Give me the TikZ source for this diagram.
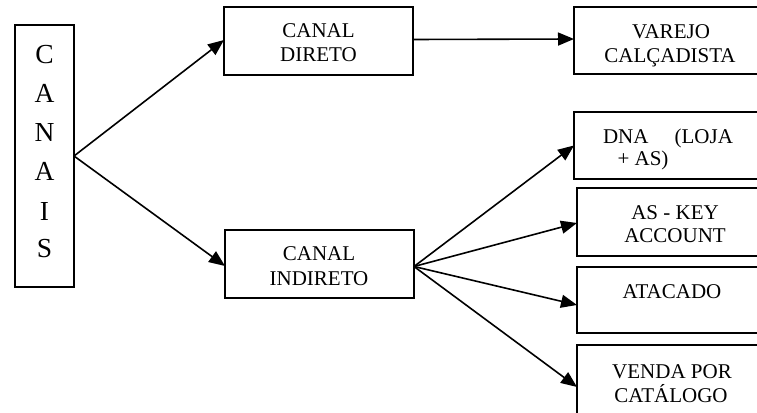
\documentclass[tikz,border=0pt]{standalone}
\usepackage{fontspec}
\setmainfont{Liberation Serif}
\usetikzlibrary{arrows.meta,calc}

\begin{document}
\begin{tikzpicture}[x=1pt,y=-1pt,
  box/.style={draw, line width=1.6pt, inner sep=0pt, outer sep=0pt},
  conn/.style={line width=1.6pt, -{Triangle[length=16pt,width=13pt]}},
  lbl/.style={anchor=base, inner sep=0pt, font=\fontsize{21}{24}\selectfont},
  big/.style={anchor=base, inner sep=0pt, font=\fontsize{27.5}{30}\selectfont}]

\useasboundingbox (0,0) rectangle (757,412);
\clip (0,0) rectangle (757,412);

% boxes
\node[box, minimum width=59pt,  minimum height=262pt] (canais)   at (44.5,156) {};
\node[box, minimum width=189pt, minimum height=68pt]  (direto)   at (318.5,41) {};
\node[box, minimum width=189pt, minimum height=68pt]  (indireto) at (319.5,264) {};
\node[box, minimum width=192pt, minimum height=67pt]  (varejo)   at (670,40.5) {};
\node[box, minimum width=192pt, minimum height=67pt]  (dna)      at (670,145.5) {};
\node[box, minimum width=192pt, minimum height=68pt]  (askey)    at (673,222) {};
\node[box, minimum width=192pt, minimum height=66pt]  (atacado)  at (673,300) {};
\node[box, minimum width=192pt, minimum height=84pt]  (venda)    at (673,387) {};

% vertical title
\node[big] (c1) at (44.5,63.3)  {C};
\node[big] (c2) at (44.5,102.7) {A};
\node[big] (c3) at (44.5,141.7) {N};
\node[big] (c4) at (44.5,180.7) {A};
\node[big] (c5) at (44.5,220.7) {I};
\node[big] (c6) at (44.5,257)   {S};

% box texts
\node[lbl] (d1) at (318.5,37.7) {CANAL};
\node[lbl] (d2) at (318.5,61.7) {DIRETO};
\node[lbl] (i1) at (319,260.7) {CANAL};
\node[lbl] (i2) at (319,285)   {INDIRETO};
\node[lbl] (v1) at (671,39)    {VAREJO};
\node[lbl] (v2) at (670,62.7)  {CALÇADISTA};
\node[lbl] (n1) at (668,143.3) {\makebox[130pt]{DNA\hfill(LOJA}};
\node[lbl] (n2) at (643,165.7) {+ AS)};
\node[lbl] (k1) at (675,219)   {AS - KEY};
\node[lbl] (k2) at (675,242.7) {ACCOUNT};
\node[lbl] (a1) at (672,298.3) {ATACADO};
\node[lbl] (p1) at (672,378)   {VENDA POR};
\node[lbl] (p2) at (671,402)   {CATÁLOGO};

% connectors
\draw[conn] (canais.east) -- ($(direto.west)+(0,-1)$);
\draw[conn] (canais.east) -- ($(indireto.west)+(0,2)$);
\draw[conn] ($(direto.east)+(0,-1.5)$) -- ($(varejo.west)+(0,-1.5)$);
\coordinate (fan) at ($(indireto.east)+(0,2.5)$);
\draw[conn] (fan) -- (dna.west);
\draw[conn] (fan) -- ($(askey.west)+(0,1)$);
\draw[conn] (fan) -- ($(atacado.west)+(0,5)$);
\draw[conn] (fan) -- (venda.west);
\end{tikzpicture}
\end{document}
